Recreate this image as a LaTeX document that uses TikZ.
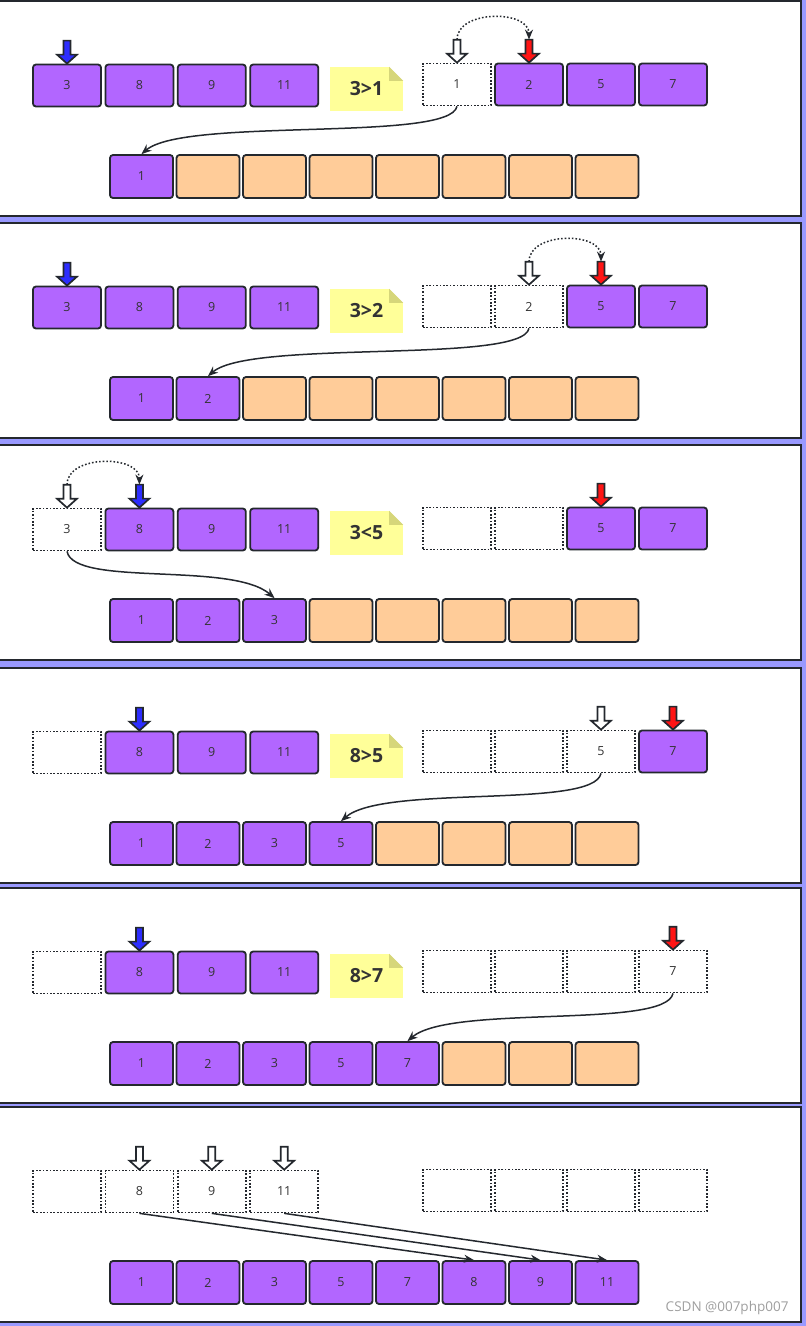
\documentclass[tikz,border=0pt]{standalone}
\usepackage{fontspec}
\setmainfont{Open Sans}
\usetikzlibrary{arrows.meta}
\definecolor{bgblue}{RGB}{153,153,255}
\definecolor{cellpurple}{RGB}{178,102,255}
\definecolor{slotorange}{RGB}{255,204,153}
\definecolor{notey}{RGB}{255,255,153}
\definecolor{notefold}{RGB}{214,214,122}
\definecolor{ink}{RGB}{36,40,46}
\definecolor{txt}{RGB}{51,51,51}
\definecolor{ptrblue}{RGB}{45,45,255}
\definecolor{ptrred}{RGB}{255,20,20}
\tikzset{
  cell/.style={draw=ink, line width=1.8pt, rounded corners=3pt, fill=cellpurple,
    minimum width=68pt, minimum height=42pt, inner sep=0pt,
    font=\fontsize{12.5}{12.5}\selectfont, text=txt},
  hole/.style={cell, fill=white, rounded corners=0pt, line width=1.7pt,
    dash pattern=on 1.7pt off 1.7pt},
  slot/.style={cell, fill=slotorange, minimum width=63pt, minimum height=43pt},
  done/.style={slot, fill=cellpurple},
  note/.style={fill=notey, minimum width=73pt, minimum height=44pt, inner sep=0pt,
    font=\bfseries\fontsize{19.5}{19.5}\selectfont, text=txt},
  panel/.style={draw=ink, line width=1.8pt, fill=white},
  move/.style={draw=ink, line width=1.5pt, -{Stealth[length=10pt,width=8pt]}},
  hop/.style={move, dash pattern=on 1.6pt off 2pt},
  ptr/.style={draw=ink, line width=1.7pt},
  pointer/.pic={
    \path[pic actions] (0,0) -- (-10,-9) -- (-3.5,-9) -- (-3.5,-23) -- (3.5,-23)
      -- (3.5,-9) -- (10,-9) -- cycle;
    \coordinate (-tail) at (0,-23);
  }
}
\newcommand\fold[1]{%
  \fill[white] ([xshift=-14pt]#1.north east) -- (#1.north east) -- ([yshift=-14pt]#1.north east) -- cycle;
  \fill[notefold] ([xshift=-14pt]#1.north east) -- ([xshift=-14pt,yshift=-14pt]#1.north east)
    -- ([yshift=-14pt]#1.north east) -- cycle;}
\begin{document}
\begin{tikzpicture}[x=1pt, y=-1pt]
  \fill[bgblue] (0,0) rectangle (806,1326);
  \useasboundingbox (0,0) rectangle (806,1326);
  \foreach \t in {1,223,445,668,888,1107}
    \draw[panel] (-3,\t) rectangle (801,\t+215);

  % step 1: 3>1
  \begin{scope}[shift={(0,1)}]
    \foreach \s/\v [count=\i] in {cell/3,cell/8,cell/9,cell/11}
      \node[\s] (p1l\i) at ({67+72.4*(\i-1)},84.5) {\v};
    \foreach \s/\v [count=\i] in {hole/1,cell/2,cell/5,cell/7}
      \node[\s] (p1r\i) at ({457+72*(\i-1)},83.5) {\v};
    \foreach \s/\v [count=\i] in {done/1,slot/{},slot/{},slot/{},slot/{},slot/{},slot/{},slot/{}}
      \node[\s] (p1b\i) at ({141.5+66.5*(\i-1)},175.5) {\v};
    \node[note] (p1n) at (366.5,88) {3>1};
    \fold{p1n}
    \pic[ptr, fill=ptrblue] (p1a) at (p1l1.north) {pointer};
    \pic[ptr, fill=white] (p1w) at (p1r1.north) {pointer};
    \pic[ptr, fill=ptrred] (p1c) at (p1r2.north) {pointer};
    \draw[hop] (p1w-tail) .. controls +(0,-30) and +(0,-30) .. (p1c-tail);
    \draw[move] (p1r1.south) .. controls +(-7,36) and +(43,-37) .. (p1b1.north);
  \end{scope}

  % step 2: 3>2
  \begin{scope}[shift={(0,223)}]
    \foreach \s/\v [count=\i] in {cell/3,cell/8,cell/9,cell/11}
      \node[\s] (p2l\i) at ({67+72.4*(\i-1)},84.5) {\v};
    \foreach \s/\v [count=\i] in {hole/{},hole/2,cell/5,cell/7}
      \node[\s] (p2r\i) at ({457+72*(\i-1)},83.5) {\v};
    \foreach \s/\v [count=\i] in {done/1,done/2,slot/{},slot/{},slot/{},slot/{},slot/{},slot/{}}
      \node[\s] (p2b\i) at ({141.5+66.5*(\i-1)},175.5) {\v};
    \node[note] (p2n) at (366.5,88) {3>2};
    \fold{p2n}
    \pic[ptr, fill=ptrblue] (p2a) at (p2l1.north) {pointer};
    \pic[ptr, fill=white] (p2w) at (p2r2.north) {pointer};
    \pic[ptr, fill=ptrred] (p2c) at (p2r3.north) {pointer};
    \draw[hop] (p2w-tail) .. controls +(0,-30) and +(0,-30) .. (p2c-tail);
    \draw[move] (p2r2.south) .. controls +(-7,36) and +(43,-37) .. (p2b2.north);
  \end{scope}

  % step 3: 3<5
  \begin{scope}[shift={(0,445)}]
    \foreach \s/\v [count=\i] in {hole/3,cell/8,cell/9,cell/11}
      \node[\s] (p3l\i) at ({67+72.4*(\i-1)},84.5) {\v};
    \foreach \s/\v [count=\i] in {hole/{},hole/{},cell/5,cell/7}
      \node[\s] (p3r\i) at ({457+72*(\i-1)},83.5) {\v};
    \foreach \s/\v [count=\i] in {done/1,done/2,done/3,slot/{},slot/{},slot/{},slot/{},slot/{}}
      \node[\s] (p3b\i) at ({141.5+66.5*(\i-1)},175.5) {\v};
    \node[note] (p3n) at (366.5,88) {3<5};
    \fold{p3n}
    \pic[ptr, fill=white] (p3w) at (p3l1.north) {pointer};
    \pic[ptr, fill=ptrblue] (p3a) at (p3l2.north) {pointer};
    \pic[ptr, fill=ptrred] (p3c) at (p3r3.north) {pointer};
    \draw[hop] (p3w-tail) .. controls +(0,-30) and +(0,-30) .. (p3a-tail);
    \draw[move] (p3l1.south) .. controls +(7,36) and +(-43,-37) .. (p3b3.north);
  \end{scope}

  % step 4: 8>5
  \begin{scope}[shift={(0,668)}]
    \foreach \s/\v [count=\i] in {hole/{},cell/8,cell/9,cell/11}
      \node[\s] (p4l\i) at ({67+72.4*(\i-1)},84.5) {\v};
    \foreach \s/\v [count=\i] in {hole/{},hole/{},hole/5,cell/7}
      \node[\s] (p4r\i) at ({457+72*(\i-1)},83.5) {\v};
    \foreach \s/\v [count=\i] in {done/1,done/2,done/3,done/5,slot/{},slot/{},slot/{},slot/{}}
      \node[\s] (p4b\i) at ({141.5+66.5*(\i-1)},175.5) {\v};
    \node[note] (p4n) at (366.5,88) {8>5};
    \fold{p4n}
    \pic[ptr, fill=ptrblue] (p4a) at (p4l2.north) {pointer};
    \pic[ptr, fill=white] (p4w) at (p4r3.north) {pointer};
    \pic[ptr, fill=ptrred] (p4c) at (p4r4.north) {pointer};
    \draw[move] (p4r3.south) .. controls +(-7,36) and +(43,-37) .. (p4b4.north);
  \end{scope}

  % step 5: 8>7
  \begin{scope}[shift={(0,888)}]
    \foreach \s/\v [count=\i] in {hole/{},cell/8,cell/9,cell/11}
      \node[\s] (p5l\i) at ({67+72.4*(\i-1)},84.5) {\v};
    \foreach \s/\v [count=\i] in {hole/{},hole/{},hole/{},hole/7}
      \node[\s] (p5r\i) at ({457+72*(\i-1)},83.5) {\v};
    \foreach \s/\v [count=\i] in {done/1,done/2,done/3,done/5,done/7,slot/{},slot/{},slot/{}}
      \node[\s] (p5b\i) at ({141.5+66.5*(\i-1)},175.5) {\v};
    \node[note] (p5n) at (366.5,88) {8>7};
    \fold{p5n}
    \pic[ptr, fill=ptrblue] (p5a) at (p5l2.north) {pointer};
    \pic[ptr, fill=ptrred] (p5c) at (p5r4.north) {pointer};
    \draw[move] (p5r4.south) .. controls +(-7,36) and +(43,-37) .. (p5b5.north);
  \end{scope}

  % step 6: copy the rest
  \begin{scope}[shift={(0,1107)}]
    \foreach \s/\v [count=\i] in {hole/{},hole/8,hole/9,hole/11}
      \node[\s] (p6l\i) at ({67+72.4*(\i-1)},84.5) {\v};
    \foreach \s/\v [count=\i] in {hole/{},hole/{},hole/{},hole/{}}
      \node[\s] (p6r\i) at ({457+72*(\i-1)},83.5) {\v};
    \foreach \s/\v [count=\i] in {done/1,done/2,done/3,done/5,done/7,done/8,done/9,done/11}
      \node[\s] (p6b\i) at ({141.5+66.5*(\i-1)},175.5) {\v};
    \foreach \i in {2,3,4}
      \pic[ptr, fill=white] (p6w\i) at (p6l\i.north) {pointer};
    \foreach \i/\j in {2/6,3/7,4/8}
      \draw[move] (p6l\i.south) -- (p6b\j.north);
  \end{scope}
  \node[anchor=east, text=gray!75, font=\fontsize{13.5}{13.5}\selectfont] (mark) at (792,1308) {CSDN @007php007};
\end{tikzpicture}
\end{document}
